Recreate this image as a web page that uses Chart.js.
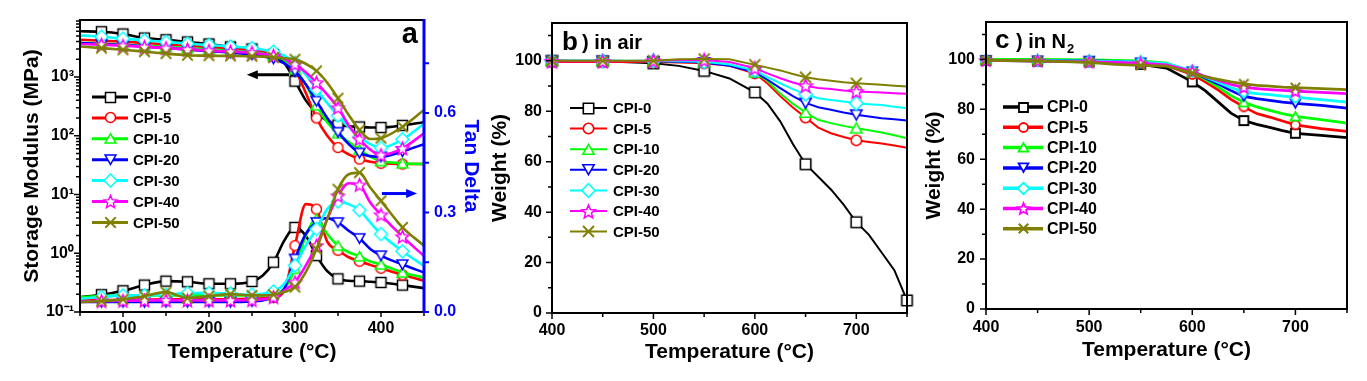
<!DOCTYPE html>
<html><head><meta charset="utf-8"><title>CPI DMA / TGA</title>
<script src="https://cdn.jsdelivr.net/npm/chart.js@4.4.1/dist/chart.umd.min.js"></script>
<style>
html,body{margin:0;padding:0;background:#fff;}
body{width:1367px;height:381px;position:relative;overflow:hidden;}
canvas{position:absolute;top:0;}
</style></head><body>
<canvas id="chartA" width="485" height="381" style="left:0px"></canvas>
<canvas id="chartB" width="430" height="381" style="left:485px"></canvas>
<canvas id="chartC" width="452" height="381" style="left:915px"></canvas>
<script>
const FONT = "'Liberation Sans', Arial, Helvetica, sans-serif";
Chart.defaults.font.family = FONT;
Chart.defaults.color = '#000';

// ---------- series identity ----------
const seriesNames  = ['CPI-0','CPI-5','CPI-10','CPI-20','CPI-30','CPI-40','CPI-50'];
const seriesColors = ['#000000','#ff0000','#00ff00','#0000ff','#00ffff','#ff00ff','#808000'];
const seriesShapes = ['square','circle','triangle','invtriangle','diamond','star','cross'];

// ---------- panel a : DMA ----------
const dmaT = [50,75,100,125,150,175,200,225,250,262.5,275,287.5,300,312.5,325,337.5,350,362.5,375,387.5,400,425,450];
const modCPI0  = [6000,5900,5400,4600,4300,3950,3650,3250,3000,2750,2420,1750,850,400,245,180,152,145,141,138,138,150,170];
const modCPI5  = [4300,4150,4000,3800,3600,3400,3200,3050,2900,2720,2500,2080,1350,540,200,100,63,48,40,36,34,33,33];
const modCPI10 = [3800,3700,3550,3400,3250,3100,2950,2800,2650,2500,2300,1950,1350,750,330,170,110,78,58,44,37,34,33];
const modCPI20 = [3800,3650,3500,3300,3100,2950,2750,2600,2400,2250,2050,1700,1250,750,390,200,115,72,51,45,44,54,72];
const modCPI30 = [5100,4850,4500,4200,3950,3700,3500,3300,3100,2900,2700,2300,1750,1100,620,360,220,140,96,72,62,87,160];
const modCPI40 = [3650,3550,3400,3250,3100,2950,2800,2700,2600,2450,2300,2050,1650,1200,800,500,300,150,88,58,47,61,110];
const modCPI50 = [3300,3100,2900,2700,2500,2350,2300,2280,2250,2220,2160,2080,2000,1680,1270,800,435,225,125,88,91,142,275];

const tanCPI0  = [0.045,0.052,0.064,0.081,0.093,0.091,0.085,0.085,0.092,0.11,0.15,0.215,0.255,0.23,0.17,0.123,0.1,0.094,0.093,0.091,0.089,0.081,0.072];
const tanCPI5  = [0.035,0.036,0.036,0.037,0.038,0.038,0.038,0.039,0.04,0.041,0.044,0.065,0.2,0.325,0.31,0.212,0.186,0.165,0.153,0.142,0.132,0.112,0.094];
const tanCPI10 = [0.045,0.048,0.05,0.05,0.05,0.05,0.05,0.05,0.05,0.05,0.055,0.07,0.13,0.23,0.28,0.235,0.2,0.18,0.168,0.152,0.143,0.119,0.104];
const tanCPI20 = [0.03,0.03,0.03,0.03,0.03,0.03,0.03,0.03,0.032,0.035,0.045,0.07,0.16,0.235,0.27,0.283,0.27,0.245,0.222,0.19,0.17,0.143,0.119];
const tanCPI30 = [0.04,0.045,0.05,0.05,0.052,0.057,0.057,0.055,0.052,0.055,0.062,0.085,0.14,0.2,0.25,0.31,0.333,0.325,0.307,0.27,0.235,0.183,0.139];
const tanCPI40 = [0.032,0.033,0.034,0.035,0.035,0.035,0.035,0.035,0.036,0.038,0.045,0.065,0.09,0.14,0.2,0.28,0.35,0.388,0.383,0.33,0.293,0.227,0.169];
const tanCPI50 = [0.03,0.033,0.038,0.048,0.06,0.042,0.048,0.054,0.05,0.05,0.052,0.06,0.075,0.12,0.19,0.28,0.37,0.415,0.42,0.375,0.335,0.255,0.2];

const dmaXTicks = [50,100,150,200,250,300,350,400,450];
const dmaTanTicks = [0,0.15,0.3,0.45,0.6,0.75];
const dmaLogTicks = [];
for (let e = -1; e <= 3; e++) for (let m = 1; m <= 9; m++) dmaLogTicks.push(Number((m * Math.pow(10, e)).toPrecision(3)));

// ---------- panel b : TGA in air ----------
const airT = [400,450,500,525,550,575,600,612.5,625,637.5,650,662.5,675,687.5,700,712.5,725,737.5,750];
const airCPI0  = [100,99.8,99,98,96,93,87.5,83,76,67,59,54,49,43,36,31,24,17,5];
const airCPI5  = [99.5,99.5,99.5,99.3,99,98,95,91,86,81.5,77.5,73.5,71.3,69.8,68.5,67.8,67.2,66.4,65.5];
const airCPI10 = [100,100,99.8,99.6,99.5,98.5,95.5,92,87,83,79.5,76.6,75.3,74.2,73.3,72.5,71.6,70.5,69.3];
const airCPI20 = [100,100,99.8,99.6,99.3,98,95.5,92.5,89.2,86,83.3,81.6,80.6,79.5,78.6,77.9,77.2,76.8,76.3];
const airCPI30 = [100,100,100,99.8,99.6,98.5,96.2,93.5,91.1,88.8,86.8,85.2,84.5,83.9,83.2,82.8,82.5,81.8,81.2];
const airCPI40 = [99.8,99.8,100,100.2,100.3,99.5,97.1,95,93.1,91.4,90.1,89.2,88.8,88.2,87.8,87.6,87.4,87.1,86.9];
const airCPI50 = [100,100,100,100.6,100.7,100.6,98.4,97.3,96.2,94.8,93.5,92.7,92.1,91.5,91.1,90.8,90.5,90.1,89.8];

// ---------- panel c : TGA in N2 ----------
const n2T = [400,450,500,525,550,575,600,612.5,625,637.5,650,662.5,675,687.5,700,725,750];
const n2CPI0  = [99.6,99.3,99,98.5,98,96.5,91,87.5,83,78.5,75.5,74,72.8,71.5,70.4,69.6,68.7];
const n2CPI5  = [99.6,99.5,99.2,99,98.8,97.5,94,91,87.8,84,81,78.3,76.9,75.3,73.8,72.3,71.2];
const n2CPI10 = [100,100,99.8,99.6,99.4,98.5,95,92,89,85.5,82.8,81,79.6,78.3,77.2,75.9,74.5];
const n2CPI20 = [99.6,99.5,99.4,99.2,98.8,98,95.2,92.5,90.2,87.5,85.2,84.3,83.6,82.9,82.4,81.6,80.5];
const n2CPI30 = [99.6,99.5,99.3,99.1,99,98.3,95.5,93,90.9,88.7,87,86.3,85.9,85.3,84.9,83.9,82.9];
const n2CPI40 = [99.6,99.4,99,98.8,98.5,97.8,95.2,93.2,91.6,90,88.8,88.3,87.9,87.6,87.3,86.8,86.3];
const n2CPI50 = [99.6,99.4,98.8,98,97.6,97.3,94.5,93,92,91,90.2,89.6,89.3,88.9,88.7,88.3,87.9];

const tgaXTicks = [400,450,500,550,600,650,700,750];
const tgaYTicks = [0,10,20,30,40,50,60,70,80,90,100,110];

const modSeries = [modCPI0,modCPI5,modCPI10,modCPI20,modCPI30,modCPI40,modCPI50];
const tanSeries = [tanCPI0,tanCPI5,tanCPI10,tanCPI20,tanCPI30,tanCPI40,tanCPI50];
const airSeries = [airCPI0,airCPI5,airCPI10,airCPI20,airCPI30,airCPI40,airCPI50];
const n2Series  = [n2CPI0,n2CPI5,n2CPI10,n2CPI20,n2CPI30,n2CPI40,n2CPI50];

// ---------- helpers ----------
function makeMarker(shape, color, s, lw) {
  let n = Math.ceil(s * 3 + lw * 2 + 2); if (n % 2 === 0) n += 1;
  const c = document.createElement('canvas'); c.width = n; c.height = n;
  const g = c.getContext('2d'); const m = n / 2;
  g.lineWidth = lw; g.strokeStyle = color; g.fillStyle = '#ffffff'; g.lineJoin = 'miter';
  g.beginPath();
  if (shape === 'square') { g.rect(m - s, m - s, 2 * s, 2 * s); }
  else if (shape === 'circle') { g.arc(m, m, s, 0, Math.PI * 2); }
  else if (shape === 'triangle' || shape === 'invtriangle') {
    const R = s * 1.25, dir = shape === 'triangle' ? 1 : -1;
    for (let k = 0; k < 3; k++) {
      const ang = -Math.PI / 2 + k * 2 * Math.PI / 3;
      const px = m + R * Math.cos(ang), py = m + dir * (R * Math.sin(ang) + R * 0.22);
      if (k) g.lineTo(px, py); else g.moveTo(px, py);
    }
    g.closePath();
  } else if (shape === 'diamond') {
    const d = s * 1.3; g.moveTo(m, m - d); g.lineTo(m + d, m); g.lineTo(m, m + d); g.lineTo(m - d, m); g.closePath();
  } else if (shape === 'star') {
    const R = s * 1.35, r = R * 0.45, off = R * 0.09;
    for (let k = 0; k < 10; k++) {
      const rr = k % 2 ? r : R, ang = -Math.PI / 2 + k * Math.PI / 5;
      const px = m + rr * Math.cos(ang), py = m + off + rr * Math.sin(ang);
      if (k) g.lineTo(px, py); else g.moveTo(px, py);
    }
    g.closePath();
  } else if (shape === 'cross') {
    const d = s * 1.05; g.moveTo(m - d, m - d); g.lineTo(m + d, m + d); g.moveTo(m + d, m - d); g.lineTo(m - d, m + d);
    g.lineWidth = lw * 1.2; g.stroke(); return c;
  }
  g.fill(); g.stroke();
  return c;
}
function xy(xs, ys) { return xs.map((x, i) => ({ x: x, y: ys[i] })); }

function decor(spec) {
  return {
    id: 'decor',
    afterDatasetsDraw(chart) {
      const ctx = chart.ctx, a = chart.chartArea;
      ctx.save();
      // tick marks
      for (const t of spec.ticks) {
        const sc = chart.scales[t.id];
        ctx.strokeStyle = t.color; ctx.lineWidth = t.width;
        ctx.beginPath();
        sc.ticks.forEach(tk => {
          const p = sc.getPixelForValue(tk.value);
          const L = (tk.label !== '' && tk.label != null) ? t.major : t.minor;
          if (t.side === 'bottom') { ctx.moveTo(p, a.bottom); ctx.lineTo(p, a.bottom + L); }
          else if (t.side === 'left') { ctx.moveTo(a.left - L, p); ctx.lineTo(a.left, p); }
          else { ctx.moveTo(a.right, p); ctx.lineTo(a.right + L, p); }
        });
        ctx.stroke();
      }
      // frame
      ctx.strokeStyle = '#000'; ctx.lineWidth = spec.frame;
      ctx.strokeRect(a.left, a.top, a.right - a.left, a.bottom - a.top);
      if (spec.rightColor) {
        ctx.strokeStyle = spec.rightColor; ctx.lineWidth = 3;
        ctx.beginPath(); ctx.moveTo(a.right, a.top - 1); ctx.lineTo(a.right, a.bottom + 1); ctx.stroke();
      }
      // arrows
      (spec.arrows || []).forEach(ar => {
        const xs = chart.scales.x, ys = chart.scales[ar.axis];
        const x1 = xs.getPixelForValue(ar.from), x2 = xs.getPixelForValue(ar.to), y = ys.getPixelForValue(ar.y);
        const dir = Math.sign(x2 - x1);
        ctx.strokeStyle = ar.color; ctx.fillStyle = ar.color; ctx.lineWidth = 3;
        ctx.beginPath(); ctx.moveTo(x1, y); ctx.lineTo(x2 - dir * 8, y); ctx.stroke();
        ctx.beginPath(); ctx.moveTo(x2, y); ctx.lineTo(x2 - dir * 11, y - 4.5); ctx.lineTo(x2 - dir * 11, y + 4.5); ctx.closePath(); ctx.fill();
      });
      // legend
      const lg = spec.legend;
      for (let i = 0; i < seriesNames.length; i++) {
        const y = lg.y0 + i * lg.dy;
        ctx.strokeStyle = seriesColors[i]; ctx.lineWidth = lg.lw;
        ctx.beginPath(); ctx.moveTo(lg.x1, y); ctx.lineTo(lg.x2, y); ctx.stroke();
        const mk = lg.markers[i];
        ctx.drawImage(mk, Math.round(lg.mx - mk.width / 2), Math.round(y - mk.height / 2));
        ctx.fillStyle = '#000'; ctx.font = 'bold ' + lg.font + 'px ' + FONT;
        ctx.textAlign = 'left'; ctx.textBaseline = 'middle';
        ctx.fillText(seriesNames[i], lg.tx, y + 1);
      }
      // panel label
      spec.label(ctx, a);
      ctx.restore();
    }
  };
}

function tickFont(size) { return { family: FONT, size: size, weight: 'bold' }; }
function titleFont(size) { return { family: FONT, size: size, weight: 'bold' }; }
const sup = { '-1': '\u207B\u00B9', '0': '\u2070', '1': '\u00B9', '2': '\u00B2', '3': '\u00B3' };

// ================= Panel A =================
const markA = seriesShapes.map((sh, i) => makeMarker(sh, seriesColors[i], 5, 1.5));
const isMarkA = t => t % 25 === 0 && t >= 75 && t <= 425;
const dsA = [];
for (let i = 0; i < 7; i++) {
  dsA.push({ label: seriesNames[i] + " E'", data: xy(dmaT, modSeries[i]), yAxisID: 'y',
    borderColor: seriesColors[i], backgroundColor: seriesColors[i], borderWidth: 2.6,
    pointStyle: markA[i], pointRadius: c => isMarkA(dmaT[c.dataIndex]) ? 5 : 0,
    cubicInterpolationMode: 'monotone', order: 7 - i, fill: false });
  dsA.push({ label: seriesNames[i] + ' tan delta', data: xy(dmaT, tanSeries[i]), yAxisID: 'y2',
    borderColor: seriesColors[i], backgroundColor: seriesColors[i], borderWidth: 2.6,
    pointStyle: markA[i], pointRadius: c => isMarkA(dmaT[c.dataIndex]) ? 5 : 0,
    cubicInterpolationMode: 'monotone', order: 7 - i, fill: false });
}
new Chart(document.getElementById('chartA'), {
  type: 'line',
  data: { datasets: dsA },
  options: {
    responsive: false, animation: false, events: [],
    layout: { padding: { left: 0, right: 0, top: 20, bottom: 0 } },
    plugins: { legend: { display: false }, tooltip: { enabled: false } },
    scales: {
      x: { type: 'linear', position: 'bottom', min: 50, max: 450,
        afterBuildTicks: s => { s.ticks = dmaXTicks.map(v => ({ value: v })); },
        afterFit: s => { s.height = 69; },
        grid: { display: false, drawTicks: false }, border: { display: false },
        ticks: { autoSkip: false, maxRotation: 0, padding: 7, color: '#000', font: tickFont(16),
          callback: v => (v % 100 === 0 && v > 50 && v < 450) ? String(v) : '' },
        title: { display: true, text: 'Temperature (\u00B0C)', color: '#000', font: titleFont(21), padding: { top: 0, bottom: 16 } } },
      y: { type: 'logarithmic', position: 'left', min: 0.1, max: 9333,
        afterBuildTicks: s => { s.ticks = dmaLogTicks.map(v => ({ value: v })); },
        afterFit: s => { s.width = 80; },
        grid: { display: false, drawTicks: false }, border: { display: false },
        ticks: { autoSkip: false, padding: 6, color: '#000', font: tickFont(16),
          callback: v => { const e = Math.round(Math.log10(v)); return Math.abs(v - Math.pow(10, e)) < 1e-6 * Math.pow(10, e) ? '10' + sup[String(e)] : ''; } },
        title: { display: true, text: 'Storage Modulus (MPa)', color: '#000', font: titleFont(21), padding: { top: 20, bottom: 0 } } },
      y2: { type: 'linear', position: 'right', min: 0, max: 0.88,
        afterBuildTicks: s => { s.ticks = dmaTanTicks.map(v => ({ value: v })); },
        afterFit: s => { s.width = 61; },
        grid: { display: false, drawTicks: false }, border: { display: false },
        ticks: { autoSkip: false, padding: 10, color: '#0000ff', font: tickFont(16),
          callback: v => (Math.round(v * 100) % 30 === 0) ? v.toFixed(1) : '' },
        title: { display: true, text: 'Tan Delta', color: '#0000ff', font: titleFont(21), padding: { top: 2, bottom: 0 } } }
    }
  },
  plugins: [decor({
    frame: 2, rightColor: '#0000ff',
    ticks: [ { id: 'x', side: 'bottom', major: 5, minor: 4, color: '#000', width: 1.5 },
             { id: 'y', side: 'left', major: 6, minor: 4, color: '#000', width: 1.5 },
             { id: 'y2', side: 'right', major: 5, minor: 5, color: '#0000ff', width: 2 } ],
    arrows: [ { axis: 'y', from: 293, to: 244, y: 1090, color: '#000' },
              { axis: 'y2', from: 401, to: 442, y: 0.357, color: '#0000ff' } ],
    legend: { x1: 92, x2: 128, mx: 110, tx: 133, y0: 97, dy: 20.9, lw: 3, font: 15, markers: markA },
    label: (ctx, a) => { ctx.fillStyle = '#000'; ctx.font = 'bold 29px ' + FONT; ctx.textAlign = 'right'; ctx.textBaseline = 'alphabetic'; ctx.fillText('a', a.right - 6, a.top + 23); }
  })]
});

// ================= Panel B / C =================
function tgaChart(id, xs, series, mSize, mLw, lineW, isMark, geom) {
  const marks = seriesShapes.map((sh, i) => makeMarker(sh, seriesColors[i], mSize, mLw));
  const ds = series.map((ys, i) => ({
    label: seriesNames[i], data: xy(xs, ys), borderColor: seriesColors[i], backgroundColor: seriesColors[i],
    borderWidth: lineW, pointStyle: marks[i], pointRadius: c => isMark(xs[c.dataIndex], i) ? 5 : 0,
    tension: 0, order: 7 - i, fill: false, clip: false }));
  new Chart(document.getElementById(id), {
    type: 'line',
    data: { datasets: ds },
    options: {
      responsive: false, animation: false, events: [],
      layout: { padding: { left: 0, right: geom.padRight, top: geom.top, bottom: 0 } },
      plugins: { legend: { display: false }, tooltip: { enabled: false } },
      scales: {
        x: { type: 'linear', position: 'bottom', min: 400, max: 750,
          afterBuildTicks: s => { s.ticks = tgaXTicks.map(v => ({ value: v })); },
          afterFit: s => { s.height = geom.xH; },
          grid: { display: false, drawTicks: false }, border: { display: false },
          ticks: { autoSkip: false, maxRotation: 0, padding: geom.xPad, color: '#000', font: tickFont(16),
            callback: v => (v % 100 === 0 && v < 750) ? String(v) : '' },
          title: { display: true, text: 'Temperature (\u00B0C)', color: '#000', font: titleFont(21), padding: { top: 0, bottom: geom.xTitlePad } } },
        y: { type: 'linear', position: 'left', min: 0, max: 115,
          afterBuildTicks: s => { s.ticks = tgaYTicks.map(v => ({ value: v })); },
          afterFit: s => { s.width = geom.yW; },
          grid: { display: false, drawTicks: false }, border: { display: false },
          ticks: { autoSkip: false, padding: geom.yPad, color: '#000', font: tickFont(16),
            callback: v => (v % 20 === 0 && v <= 100) ? String(v) : '' },
          title: { display: true, text: 'Weight (%)', color: '#000', font: titleFont(21), padding: { top: geom.yTitlePad, bottom: 0 } } }
      }
    },
    plugins: [decor({
      frame: 2,
      ticks: [ { id: 'x', side: 'bottom', major: 6, minor: 4, color: '#000', width: 1.5 },
               { id: 'y', side: 'left', major: 6, minor: 4, color: '#000', width: 1.5 } ],
      legend: Object.assign({ markers: marks }, geom.legend),
      label: geom.label
    })]
  });
}

tgaChart('chartB', airT, airSeries, 5.2, 1.6, 2, (t, i) => (t % 50 === 0 && t <= 700) || (i === 0 && t === 750), {
  padRight: 6, top: 23, xH: 68, yW: 67, xPad: 8, yPad: 10, xTitlePad: 16, yTitlePad: 3,
  legend: { x1: 85, x2: 122, mx: 103, tx: 128, y0: 108, dy: 20.6, lw: 2, font: 15 },
  label: (ctx, a) => {
    ctx.fillStyle = '#000'; ctx.textAlign = 'left'; ctx.textBaseline = 'alphabetic';
    ctx.font = 'bold 26px ' + FONT; ctx.fillText('b', a.left + 10, a.top + 27);
    ctx.font = 'bold 20px ' + FONT; ctx.fillText(') in air', a.left + 30, a.top + 26);
  }
});

tgaChart('chartC', n2T, n2Series, 4.5, 1.8, 2.7, (t) => t % 50 === 0 && t <= 700, {
  padRight: 20, top: 22, xH: 72, yW: 71, xPad: 9, yPad: 11, xTitlePad: 18, yTitlePad: 7,
  legend: { x1: 88, x2: 128, mx: 108, tx: 132, y0: 107, dy: 20.3, lw: 3.5, font: 16 },
  label: (ctx, a) => {
    ctx.fillStyle = '#000'; ctx.textAlign = 'left'; ctx.textBaseline = 'alphabetic';
    ctx.font = 'bold 26px ' + FONT; ctx.fillText('c', a.left + 9, a.top + 26);
    ctx.font = 'bold 20px ' + FONT; const s = ') in N'; ctx.fillText(s, a.left + 30, a.top + 26);
    const w = ctx.measureText(s).width;
    ctx.font = 'bold 13px ' + FONT; ctx.fillText('2', a.left + 31 + w, a.top + 31);
  }
});
</script>
</body></html>
